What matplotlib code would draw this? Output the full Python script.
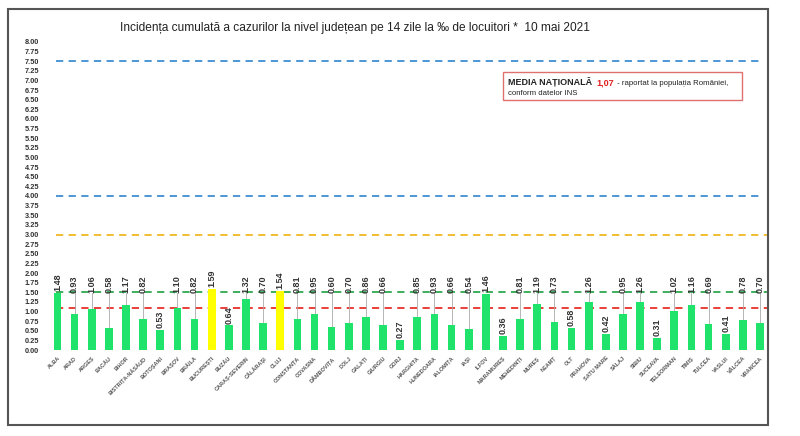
import matplotlib
matplotlib.use("Agg")
import matplotlib.pyplot as plt
from matplotlib.patches import Rectangle

plt.rcParams['font.family'] = ['Liberation Sans', 'DejaVu Sans']

# date: incidenta cumulata pe 14 zile la 1000 de locuitori, 10 mai 2021
judete = ['ALBA', 'ARAD', 'ARGEȘ', 'BACĂU', 'BIHOR', 'BISTRIȚA-NĂSĂUD', 'BOTOȘANI',
          'BRAȘOV', 'BRĂILA', 'BUCUREȘTI', 'BUZĂU', 'CARAȘ-SEVERIN', 'CĂLĂRAȘI', 'CLUJ',
          'CONSTANȚA', 'COVASNA', 'DÂMBOVIȚA', 'DOLJ', 'GALAȚI', 'GIURGIU', 'GORJ',
          'HARGHITA', 'HUNEDOARA', 'IALOMIȚA', 'IAȘI', 'ILFOV', 'MARAMUREȘ', 'MEHEDINȚI',
          'MUREȘ', 'NEAMȚ', 'OLT', 'PRAHOVA', 'SATU MARE', 'SĂLAJ', 'SIBIU', 'SUCEAVA',
          'TELEORMAN', 'TIMIȘ', 'TULCEA', 'VASLUI', 'VÂLCEA', 'VRANCEA']
incidenta = [1.48, 0.93, 1.06, 0.58, 1.17, 0.82, 0.53, 1.10, 0.82, 1.59, 0.64, 1.32,
             0.70, 1.54, 0.81, 0.95, 0.60, 0.70, 0.86, 0.66, 0.27, 0.85, 0.93, 0.66,
             0.54, 1.46, 0.36, 0.81, 1.19, 0.73, 0.58, 1.26, 0.42, 0.95, 1.26, 0.31,
             1.02, 1.16, 0.69, 0.41, 0.78, 0.70]
evidentiate = ['BUCUREȘTI', 'CLUJ']

# praguri orizontale
praguri = [7.5, 4.0, 3.0, 1.5, 1.10]
culori_praguri = ['#3f8fd2', '#3f8fd2', '#f0b823', '#2ea84f', '#e8302a']

yticks = [i * 0.25 for i in range(33)]
titlu = 'Incidența cumulată a cazurilor la nivel județean pe 14 zile la ‰ de locuitori *  10 mai 2021'

# etichete puse direct deasupra barei (restul sunt ridicate, cu linie de legatura)
directe = {'ALBA', 'BOTOȘANI', 'BUCUREȘTI', 'BUZĂU', 'CLUJ', 'GORJ', 'ILFOV',
           'MARAMUREȘ', 'OLT', 'SATU MARE', 'SUCEAVA', 'VASLUI'}

fig = plt.figure(figsize=(8, 4.36), dpi=100)
ax = fig.add_axes([48.9 / 800, 0.197, 719.7 / 800, 0.707])

x = list(range(len(judete)))
culori = ['#ffff00' if j in evidentiate else '#1fe36a' for j in judete]
ax.bar(x, incidenta, width=0.45, color=culori, zorder=3)

for p, c in zip(praguri, culori_praguri):
    xmax = 0.99 if c == '#3f8fd2' else 1.0
    ax.axhline(p, xmin=0.01, xmax=xmax, color=c, lw=1.3, ls=(0, (4, 3)), zorder=2)
ax.axhline(0, color='#d9d9d9', lw=0.8, zorder=1)

for i, (j, v) in enumerate(zip(judete, incidenta)):
    if j in directe:
        ax.text(i, v + 0.05, f'{v:.2f}', rotation=90, ha='center', va='bottom',
                fontsize=6.5, fontweight='bold', color='#333333', zorder=4)
    else:
        ax.plot([i, i], [v, 1.48], color='#aaaaaa', lw=0.6, zorder=2.5)
        ax.text(i, 1.48, f'{v:.2f}', rotation=90, ha='center', va='bottom',
                fontsize=6.5, fontweight='bold', color='#333333', zorder=4)

ax.set_xlim(-0.5, len(judete) - 0.5)
ax.set_ylim(0, 8)
ax.set_yticks(yticks)
ax.set_yticklabels([f'{t:.2f}' for t in yticks], fontsize=5.3, fontweight='bold', color='#333333')
ax.set_xticks(x)
ax.set_xticklabels(judete, rotation=45, ha='right', va='top', rotation_mode='anchor',
                   fontsize=4.0, fontweight='bold', color='#555555')
ax.tick_params(axis='both', length=0, pad=7)
ax.tick_params(axis='x', pad=4)
for s in ax.spines.values():
    s.set_visible(False)

fig.text(0.444, 0.936, titlu, ha='center', va='center', fontsize=8.6, color='#222222')

# cadrul exterior
fig.patches.append(Rectangle((0.01, 0.025), 0.95, 0.954, transform=fig.transFigure,
                             fill=False, edgecolor='#555555', lw=1.5))

# caseta media nationala
fig.patches.append(Rectangle((503 / 800, 0.771), 239 / 800, 0.064, transform=fig.transFigure,
                             fill=False, edgecolor='#e07070', lw=1.0))
t1 = fig.text(508 / 800, 0.800, 'MEDIA NAȚIONALĂ', fontsize=6.5, fontweight='bold',
              color='#222222', va='bottom')
t2 = ax.annotate('1,07', xy=(1, 0), xycoords=t1, xytext=(3, 0), textcoords='offset points',
                 va='bottom', fontsize=6.5, fontweight='bold', color='#e02020',
                 annotation_clip=False)
t3 = ax.annotate(' - raportat la populația României,', xy=(1, 0), xycoords=t2, xytext=(1, 0),
                 textcoords='offset points', va='bottom', fontsize=5.6, color='#222222',
                 annotation_clip=False)
fig.text(508 / 800, 0.777, 'conform datelor INS', fontsize=5.6, color='#222222', va='bottom')

fig.savefig('out.png', dpi=100, facecolor='white')
